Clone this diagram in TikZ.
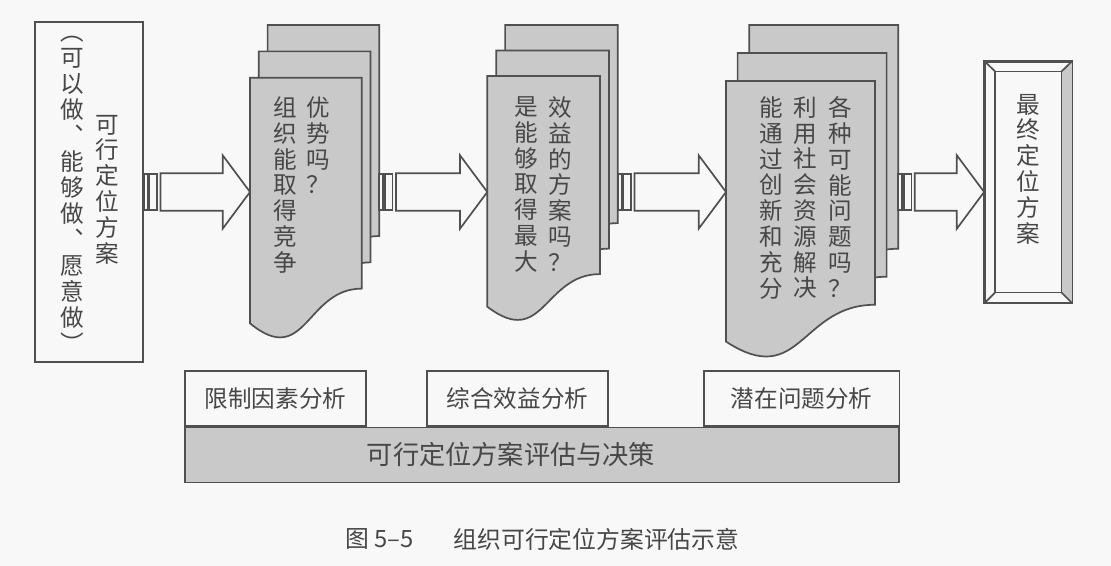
\documentclass[tikz,border=0pt]{standalone}
\usepackage{fontspec}
\setmainfont{Noto Sans CJK SC}
\usepackage{tikz}
\usetikzlibrary{calc}
\definecolor{FigureInk}{HTML}{474747}
\definecolor{FigureLine}{HTML}{505050}
\definecolor{FigurePage}{HTML}{C9C9C9}
\definecolor{FigurePaper}{HTML}{F8F8F8}
\newcommand{\ColumnFont}{\fontsize{11.8}{12.9}\selectfont}
\newcommand{\LabelFont}{\fontsize{11.8}{12.9}\selectfont}
\newcommand{\BarFont}{\fontsize{13.1}{14}\selectfont}
\tikzset{
  outline/.style={draw=FigureLine,line width=0.85pt},
  page/.style={outline,fill=FigurePage},
  plain box/.style={outline,fill=FigurePaper,inner sep=0pt,text=FigureInk,font=\LabelFont},
  column/.style={anchor=north,align=center,inner sep=0pt,outer sep=0pt,text=FigureInk,font=\ColumnFont}
}

\begin{document}
\begin{tikzpicture}[x=0.5pt,y=-0.5pt]
  % pixel grid of the 1111 x 566 scan, y runs downwards
  \fill[FigurePaper] (0,0) rectangle (1111,566);
  \path[use as bounding box] (0,0) rectangle (1111,566);

  \newcommand{\docstack}[7]{%
    \foreach \k in {2,1,0}{%
      \draw[page] ({#2+\k*#6},{#3-\k*#7}) -- ({#2+\k*#6+#4},{#3-\k*#7})
        -- ({#2+\k*#6+#4},{#3-\k*#7+0.802*#5})
        .. controls ({#2+\k*#6+#4/2},{#3-\k*#7+0.802*#5})
        and ({#2+\k*#6+#4/2},{#3-\k*#7+1.108*#5})
        .. ({#2+\k*#6},{#3-\k*#7+0.934*#5}) -- cycle;%
    }%
    \coordinate (#1 in) at (#2,192);%
    \coordinate (#1 out) at ({#2+#4+2*#6},192);%
  }
  \newcommand{\blockarrow}[2]{%
    \draw[outline,fill=FigurePaper] ($(#1)+(0,-18)$) rectangle ($(#1)+(4,18)$);%
    \draw[outline,fill=FigurePaper] ($(#1)+(5.6,-18)$) rectangle ($(#1)+(13.3,18)$);%
    \draw[outline,fill=FigurePaper,line join=miter]
      ($(#1)+(16.6,-18.8)$) -- ($(#2)+(-27.3,-18.8)$) -- ($(#2)+(-27.3,-36.7)$)
      -- (#2) -- ($(#2)+(-27.3,36.7)$) -- ($(#2)+(-27.3,18.8)$)
      -- ($(#1)+(16.6,18.8)$) -- cycle;%
  }

  % starting point
  \node[plain box,minimum width=54pt,minimum height=170pt] (feasible) at (89,192) {};
  \node[column] (feasible main) at (107,115) {可\\行\\定\\位\\方\\案};
  \node[column,font=\fontsize{11.8}{13}\selectfont] (feasible note) at (72,36)
    {︵\\可\\以\\做\\︑\\能\\够\\做\\︑\\愿\\意\\做\\︶};

  % three stacks of questions
  \docstack{doc1}{250}{77.7}{111.7}{263}{8.8}{26.3}
  \node[column] (doc1 left) at (285,96.7) {组\\织\\能\\取\\得\\竞\\争};
  \node[column] (doc1 right) at (318,96.7) {优\\势\\吗\\？};

  \docstack{doc2}{487.3}{76}{112.7}{247}{8.9}{25.5}
  \node[column] (doc2 left) at (526.7,96.7) {是\\能\\够\\取\\得\\最\\大};
  \node[column] (doc2 right) at (560,96.7) {效\\益\\的\\方\\案\\吗\\？};

  \docstack{doc3}{726}{81}{149}{279}{11.6}{28}
  \node[column] (doc3 left) at (771.7,96.7) {能\\通\\过\\创\\新\\和\\充\\分};
  \node[column] (doc3 mid) at (805,96.7) {利\\用\\社\\会\\资\\源\\解\\决};
  \node[column] (doc3 right) at (840,96.7) {各\\种\\可\\能\\问\\题\\吗\\？};

  % final choice, bevelled frame
  \node[plain box,minimum width=43.35pt,minimum height=120.5pt] (final) at (1028.3,182.2) {};
  \coordinate (final nw) at ($(final.north west)+(11,10.6)$);
  \coordinate (final ne) at ($(final.north east)+(-11,10.6)$);
  \coordinate (final se) at ($(final.south east)+(-11,-11)$);
  \coordinate (final sw) at ($(final.south west)+(11,-11)$);
  \fill[FigurePage] (final.north east) -- (final.south east) -- (final se) -- (final ne) -- cycle;
  \draw[outline] (final nw) rectangle (final se);
  \draw[outline] (final.north west) -- (final nw) (final.north east) -- (final ne)
    (final.south east) -- (final se) (final.south west) -- (final sw);
  \draw[outline] (final.north west) rectangle (final.south east);
  \node[column] (final text) at (1028.3,94) {最\\终\\定\\位\\方\\案};
  \coordinate (final in) at (final.west |- feasible.east);

  \blockarrow{feasible.east}{doc1 in}
  \blockarrow{doc1 out}{doc2 in}
  \blockarrow{doc2 out}{doc3 in}
  \blockarrow{doc3 out}{final in}

  % analysis row and decision bar
  \node[plain box,minimum width=90.5pt,minimum height=27.5pt] (limits) at (275.5,398.2) {限制因素分析};
  \node[plain box,minimum width=90.8pt,minimum height=27.5pt] (benefit) at (517.5,398.2) {综合效益分析};
  \node[plain box,minimum width=97.65pt,minimum height=27.5pt] (risk) at (801.7,398.2) {潜在问题分析};
  \node[page,anchor=north west,minimum width=357.15pt,minimum height=27.5pt,inner sep=0pt]
    (decision bar) at (limits.south west) {};
  \node[text=FigureInk,font=\BarFont,inner sep=0pt] (decision) at (511,454) {可行定位方案评估与决策};

  \node[anchor=west,text=FigureInk,font=\fontsize{11.9}{13}\selectfont,inner sep=0pt]
    (fig no) at (345,539) {图 5--5};
  \node[anchor=west,text=FigureInk,font=\fontsize{11.9}{13}\selectfont,inner sep=0pt]
    (fig title) at (453.3,539) {组织可行定位方案评估示意};
\end{tikzpicture}
\end{document}
